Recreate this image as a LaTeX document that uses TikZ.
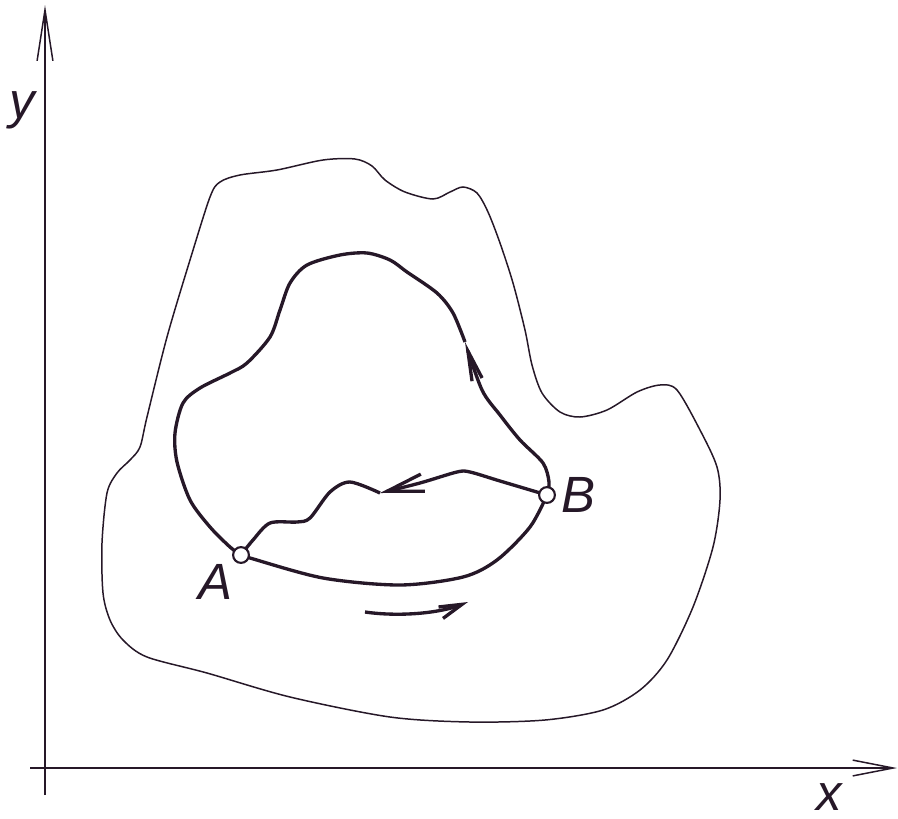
\documentclass[tikz,border=0pt]{standalone}
\usepackage{fontspec}
\setmainfont{Liberation Sans}
\usetikzlibrary{arrows.meta}
\definecolor{ink}{RGB}{38,24,40}

\begin{document}
\begin{tikzpicture}[x=0.02cm, y=-0.02cm, color=ink,
	lab/.style={inner sep=0pt, font=\fontsize{29}{32}\selectfont\itshape},
	thin line/.style={line width=0.85pt},
	curve/.style={line width=1.9pt, line join=round},
	pt/.style={circle, draw, fill=white, line width=1.2pt, minimum size=9pt, inner sep=0pt}]
	\useasboundingbox (0,0) rectangle (898,818);
	\draw[thin line, -{Straight Barb[length=29pt, width=9pt]}] (45,795) -- (45,5);
	\draw[thin line, -{Straight Barb[length=23pt, width=9pt]}] (30,768) -- (897,768);
	\node[lab] (ylab) at (22,110) {y};
	\node[lab] (xlab) at (829,797) {x};
	\draw[thin line] plot[smooth cycle] coordinates {(220,182) (240,175) (277,170) (323,160) (355,159) (372,166) (385,180) (405,192) (433,199) (450,192) (463,187) (477,193) (488,212) (500,243) (513,283) (525,330) (532,365) (542,393) (560,412) (580,417) (607,410) (637,392) (660,385) (677,390) (700,430) (717,467) (720,500) (713,547) (693,607) (667,660) (640,690) (603,710) (545,720) (470,722) (390,717) (290,697) (207,673) (147,657) (123,640) (110,620) (103,593) (102,543) (107,493) (117,473) (130,460) (140,447) (147,417) (167,337) (190,260) (210,197)};
	\coordinate (A) at (241,555);
	\coordinate (B) at (547,495);
	\coordinate (uptip) at (465,342);
	\coordinate (wavytip) at (380,493);
	\draw[curve] plot[smooth] coordinates {(A) (250,558) (323,578) (400,585) (463,577) (497,560) (530,527) (B)};
	\draw[curve, -{Straight Barb[length=17pt, width=6pt]}] plot[smooth] coordinates {(B) (549,482) (543,463) (520,440) (500,415) (482,390) (uptip)};
	\draw[curve] plot[smooth] coordinates {(uptip) (453,313) (437,293) (407,272) (390,260) (367,253) (340,255) (307,265) (290,283) (280,310) (270,337) (247,363) (230,373) (200,388) (183,403) (175,433) (177,462) (190,500) (210,527) (230,547) (A)};
	\draw[curve, -{Straight Barb[length=21pt, width=10pt]}] plot[smooth] coordinates {(B) (500,481) (470,472) (457,472) (420,483) (wavytip)};
	\draw[curve] plot[smooth] coordinates {(wavytip) (350,482) (330,492) (310,518) (297,522) (270,523) (253,540) (A)};
	\coordinate (flowstart) at (365,612);
	\coordinate (flowend) at (468,602);
	\draw[curve, -{Straight Barb[length=13pt, width=7pt]}] (flowstart) .. controls (400,617) and (440,613) .. (flowend);
	\node[pt] (Amark) at (A) {};
	\node[pt] (Bmark) at (B) {};
	\node[lab] (Alab) at (215,582) {A};
	\node[lab] (Blab) at (578,495) {B};
\end{tikzpicture}
\end{document}
